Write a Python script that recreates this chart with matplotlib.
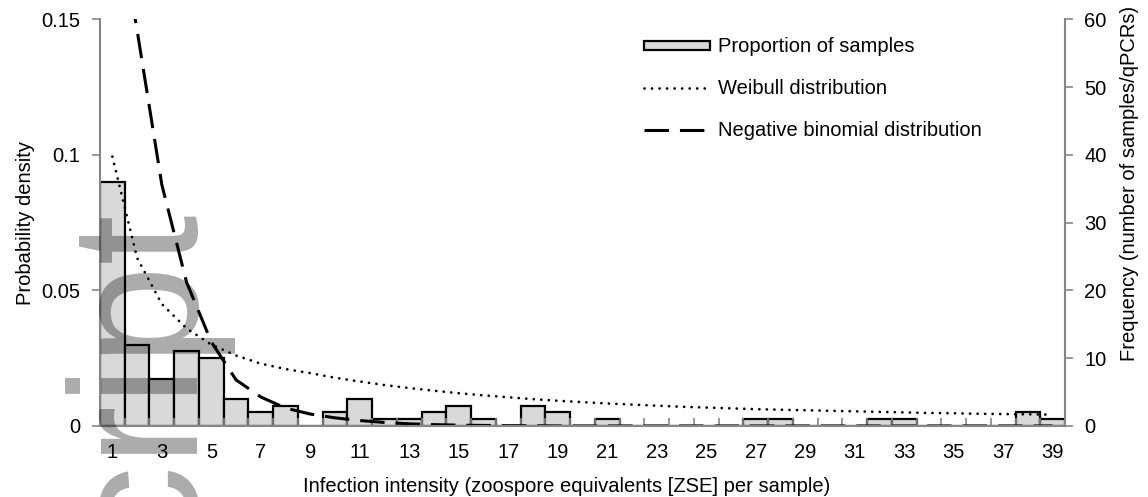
import numpy as np
import matplotlib
matplotlib.use('Agg')
import matplotlib.pyplot as plt
from matplotlib.patches import Patch
from matplotlib.lines import Line2D

plt.rcParams['font.family'] = ['Liberation Sans', 'DejaVu Sans']

# infection intensity classes (ZSE per sample)
zse = np.arange(1, 40)

# number of samples in each class
freq = [36, 12, 7, 11, 10, 4, 2, 3, 0, 2, 4, 1, 1, 2, 3, 1, 0, 3, 2, 0,
        1, 0, 0, 0, 0, 0, 1, 1, 0, 0, 0, 1, 1, 0, 0, 0, 0, 2, 1]

# fitted densities
weibull = [0.0994, 0.062, 0.045, 0.036, 0.030, 0.026, 0.023, 0.021, 0.0195, 0.0178,
           0.0164, 0.0151, 0.0140, 0.0130, 0.0121, 0.0113, 0.0106, 0.0099, 0.0093, 0.0088,
           0.0083, 0.0079, 0.0075, 0.0071, 0.0068, 0.0065, 0.0062, 0.0060, 0.0058, 0.0056,
           0.0054, 0.0052, 0.0050, 0.0048, 0.0047, 0.0045, 0.0044, 0.0043, 0.0042]
negbin = [0.2, 0.146, 0.089, 0.053, 0.031, 0.017, 0.0107, 0.0066, 0.0044, 0.003,
          0.002, 0.0013, 0.0008, 0.0005, 0.0003, 0.0002, 0.0001, 0.0001, 0, 0,
          0, 0, 0, 0, 0, 0, 0, 0, 0, 0, 0, 0, 0, 0, 0, 0, 0, 0, 0]

grey = '#868686'
fs = 14.5
dot_style = dict(color='black', lw=2.0, linestyle=(0, (0.01, 2.7)),
                 dash_capstyle='round')
dash_style = dict(color='black', lw=2.2, linestyle=(0, (8, 3.6)))

fig = plt.figure(figsize=(11.48, 4.97), dpi=100)
ax = fig.add_axes([0.0871, 0.1429, 0.8406, 0.8179])
ax2 = ax.twinx()

# bars on the frequency axis, lines on the density axis above them
ax2.bar(zse, freq, width=1.0, color='#d9d9d9', edgecolor='black', linewidth=1.6)
ax.set_zorder(ax2.get_zorder() + 1)
ax.patch.set_visible(False)

ax.plot(zse, weibull, **dot_style)
ax.plot(zse, negbin, **dash_style)

ax.set_xlim(0.5, 39.5)
ax.set_ylim(0, 0.15)
ax2.set_ylim(0, 60)

ax.set_yticks([0, 0.05, 0.1, 0.15])
ax.set_yticklabels(['0', '0.05', '0.1', '0.15'])
ax2.set_yticks(range(0, 61, 10))
ax.set_xticks(zse[::2])
ax.set_xticks(np.arange(1.5, 39, 1), minor=True)

for a in (ax, ax2):
    for s in a.spines.values():
        s.set_color(grey)
        s.set_linewidth(1.5)
    a.spines['top'].set_visible(False)
ax.spines['right'].set_visible(False)
ax2.spines['left'].set_visible(False)
ax2.spines['bottom'].set_visible(False)

ax.tick_params(axis='y', direction='out', length=6, width=1.2, color=grey,
               labelsize=fs, pad=8)
ax2.tick_params(axis='y', direction='out', length=6, width=1.2, color=grey,
                labelsize=fs, pad=8)
ax.tick_params(axis='x', which='major', length=0, labelsize=fs, pad=12)
ax.tick_params(axis='x', which='minor', direction='in', length=6, width=1.2,
               color=grey)

ax.set_ylabel('Probability density', fontsize=fs)
ax.yaxis.set_label_coords(-0.067, 0.5)
ax2.set_ylabel('Frequency (number of samples/qPCRs)', fontsize=fs)
ax2.yaxis.set_label_coords(1.057, 0.597)
ax.set_xlabel('Infection intensity (zoospore equivalents [ZSE] per sample)',
              fontsize=fs)
ax.xaxis.set_label_coords(0.484, -0.125)

handles = [Patch(facecolor='#d9d9d9', edgecolor='black', linewidth=1.6),
           Line2D([], [], **dot_style),
           Line2D([], [], **dash_style)]
labels = ['Proportion of samples', 'Weibull distribution',
          'Negative binomial distribution']
fig.legend(handles, labels, loc='upper left', bbox_to_anchor=(0.552, 0.945),
           frameon=False, fontsize=fs, handlelength=3.3, handleheight=0.32,
           handletextpad=0.4, labelspacing=1.12, borderpad=0)

fig.text(0.045, 0.6, 'Manuscript', rotation=90, fontsize=130, color='black',
         alpha=0.33, ha='left', va='top',
         family=['Liberation Sans Narrow', 'Liberation Sans'])

fig.savefig('out.png', dpi=100)
